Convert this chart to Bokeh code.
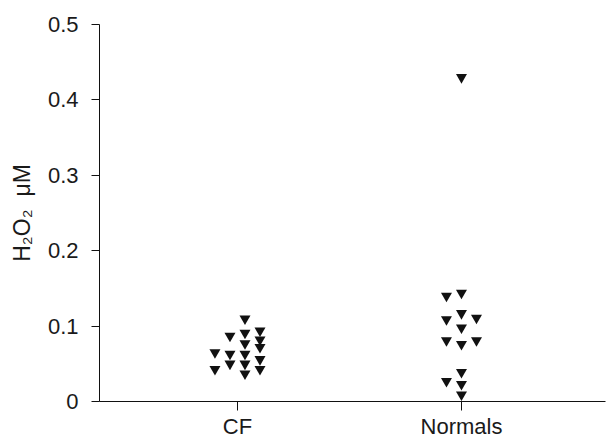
from bokeh.plotting import figure
from bokeh.models import Range1d, FixedTicker, ColumnDataSource
from bokeh.embed import file_html
from bokeh.resources import INLINE

# ---- data ----
categories = ["CF", "Normals"]
cat_pos = [1, 2]

# CF group: (column slot, value)
cf_slots = [-1.5, -1.5,
            -0.5, -0.5, -0.5,
            0.5, 0.5, 0.5, 0.5, 0.5, 0.5,
            1.5, 1.5, 1.5, 1.5, 1.5]
cf_values = [0.065, 0.043,
             0.087, 0.063, 0.050,
             0.110, 0.091, 0.077, 0.063, 0.050, 0.037,
             0.094, 0.082, 0.072, 0.056, 0.043]

# Normals group
nm_slots = [-1, -1, -1, -1,
            0, 0, 0, 0, 0, 0, 0, 0,
            1, 1]
nm_values = [0.140, 0.109, 0.081, 0.027,
             0.430, 0.144, 0.117, 0.098, 0.076, 0.039, 0.023, 0.009,
             0.111, 0.081]

y_ticks = [0, 0.1, 0.2, 0.3, 0.4, 0.5]
y_tick_labels = ["0", "0.1", "0.2", "0.3", "0.4", "0.5"]
y_label = "H\u2082O\u2082 \u00a0\u03bcM"

# ---- styling ----
FONT = "Liberation Sans"
slot_width = 0.067

xs = [cat_pos[0] + s * slot_width for s in cf_slots] + \
     [cat_pos[1] + s * slot_width for s in nm_slots]
ys = cf_values + nm_values
src = ColumnDataSource(dict(x=xs, y=ys))

p = figure(width=607, height=441, output_backend="svg", toolbar_location=None,
           x_range=Range1d(0.384, 2.643), y_range=Range1d(0, 0.5),
           min_border_left=99, min_border_right=2, min_border_top=24,
           min_border_bottom=40)
p.outline_line_color = None
p.xgrid.visible = False
p.ygrid.visible = False
p.background_fill_color = "white"
p.border_fill_color = "white"

p.scatter("x", "y", source=src, marker="inverted_triangle", size=11,
          fill_color="#111111", line_color=None)

# axes
for ax in (p.xaxis[0], p.yaxis[0]):
    ax.axis_line_color = "#111111"
    ax.axis_line_width = 1
    ax.major_tick_line_color = "#111111"
    ax.major_tick_out = 8
    ax.major_tick_in = 0
    ax.minor_tick_line_color = None
    ax.major_label_text_font = FONT
    ax.major_label_text_font_size = "22px"
    ax.major_label_text_color = "#1a1a1a"

p.xaxis.ticker = FixedTicker(ticks=cat_pos)
p.xaxis.major_label_overrides = {c: lab for c, lab in zip(cat_pos, categories)}
p.xaxis.major_label_standoff = 3
p.xaxis.major_tick_out = 9

p.yaxis.ticker = FixedTicker(ticks=y_ticks)
p.yaxis.major_label_overrides = {t: lab for t, lab in zip(y_ticks, y_tick_labels)}
p.yaxis.major_label_standoff = 13
p.yaxis.axis_label = y_label
p.yaxis.axis_label_text_font = FONT
p.yaxis.axis_label_text_font_size = "23px"
p.yaxis.axis_label_text_font_style = "normal"
p.yaxis.axis_label_text_color = "#1a1a1a"
p.yaxis.axis_label_standoff = 10

open("out.html", "w").write(file_html(p, INLINE))
